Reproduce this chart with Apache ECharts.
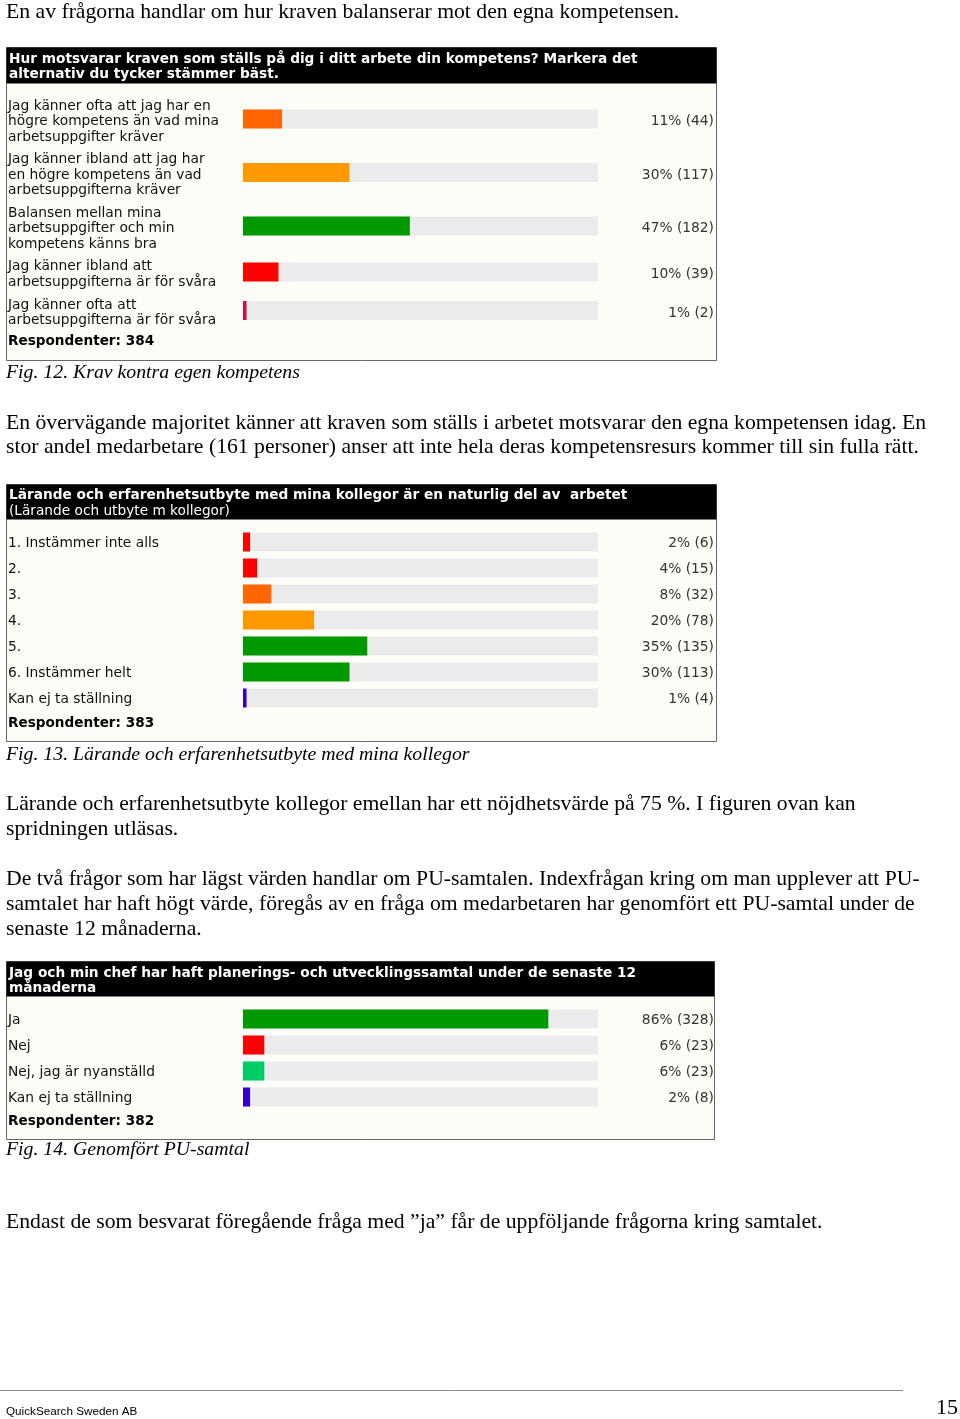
<!DOCTYPE html>
<html><head><meta charset="utf-8">
<script src="https://cdn.jsdelivr.net/npm/echarts@6/dist/echarts.min.js"></script>
<style>html,body{margin:0;padding:0;background:#fff}#c{width:960px;height:1419px}</style>
</head><body><div id="c"></div>
<script>
// ---------- Panel 1 (Fig. 12) ----------
const p1Title = ["Hur motsvarar kraven som ställs på dig i ditt arbete din kompetens? Markera det", "alternativ du tycker stämmer bäst."];
const p1Categories = [
  "Jag känner ofta att jag har en\nhögre kompetens än vad mina\narbetsuppgifter kräver",
  "Jag känner ibland att jag har\nen högre kompetens än vad\narbetsuppgifterna kräver",
  "Balansen mellan mina\narbetsuppgifter och min\nkompetens känns bra",
  "Jag känner ibland att\narbetsuppgifterna är för svåra",
  "Jag känner ofta att\narbetsuppgifterna är för svåra"
];
const p1Percent = [11, 30, 47, 10, 1];
const p1Count = [44, 117, 182, 39, 2];
const p1Colors = ["#ff6600", "#ff9900", "#009900", "#ff0000", "#c41050"];
const p1Respondents = 384;

// ---------- Panel 2 (Fig. 13) ----------
const p2Title = ["Lärande och erfarenhetsutbyte med mina kollegor är en naturlig del av  arbetet", "(Lärande och utbyte m kollegor)"];
const p2Categories = ["1. Instämmer inte alls", "2.", "3.", "4.", "5.", "6. Instämmer helt", "Kan ej ta ställning"];
const p2Percent = [2, 4, 8, 20, 35, 30, 1];
const p2Count = [6, 15, 32, 78, 135, 113, 4];
const p2Colors = ["#ff0000", "#ff0000", "#ff6600", "#ff9900", "#009900", "#009900", "#3300cc"];
const p2Respondents = 383;

// ---------- Panel 3 (Fig. 14) ----------
const p3Title = ["Jag och min chef har haft planerings- och utvecklingssamtal under de senaste 12", "månaderna"];
const p3Categories = ["Ja", "Nej", "Nej, jag är nyanställd", "Kan ej ta ställning"];
const p3Percent = [86, 6, 6, 2];
const p3Count = [328, 23, 23, 8];
const p3Colors = ["#009900", "#ff0000", "#00cc66", "#3300cc"];
const p3Respondents = 382;

// ---------- Document text ----------
const docTexts = [
  {y: 12, t: "En av frågorna handlar om hur kraven balanserar mot den egna kompetensen."},
  {y: 423, t: "En övervägande majoritet känner att kraven som ställs i arbetet motsvarar den egna kompetensen idag. En"},
  {y: 447, t: "stor andel medarbetare (161 personer) anser att inte hela deras kompetensresurs kommer till sin fulla rätt."},
  {y: 804, t: "Lärande och erfarenhetsutbyte kollegor emellan har ett nöjdhetsvärde på 75 %. I figuren ovan kan"},
  {y: 829, t: "spridningen utläsas."},
  {y: 879, t: "De två frågor som har lägst värden handlar om PU-samtalen. Indexfrågan kring om man upplever att PU-"},
  {y: 904, t: "samtalet har haft högt värde, föregås av en fråga om medarbetaren har genomfört ett PU-samtal under de"},
  {y: 929, t: "senaste 12 månaderna."},
  {y: 1222, t: "Endast de som besvarat föregående fråga med ”ja” får de uppföljande frågorna kring samtalet."}
];
const captions = [
  {y: 373, t: "Fig. 12. Krav kontra egen kompetens"},
  {y: 755, t: "Fig. 13. Lärande och erfarenhetsutbyte med mina kollegor"},
  {y: 1150, t: "Fig. 14. Genomfört PU-samtal"}
];

const UI_FONT = '"DejaVu Sans", Verdana, sans-serif';
const SERIF = '"Liberation Serif", "Times New Roman", serif';

const grids = [], xAxes = [], yAxes = [], series = [], graphics = [];
const hiddenAxis = {axisLine: {show: false}, axisTick: {show: false}, splitLine: {show: false}};

function addPanel(p) {
  graphics.push({type: 'rect', shape: {x: p.boxX, y: p.boxY, width: p.boxW, height: p.boxH},
    style: {fill: '#fdfdf7', stroke: '#666', lineWidth: 1}, z: -10});
  graphics.push({type: 'rect', shape: {x: p.boxX, y: p.boxY, width: p.boxW, height: p.headH},
    style: {fill: '#000'}, z: -9});
  p.title.forEach((t, i) => {
    graphics.push({type: 'text', x: 9, y: p.titleY[i], z: -8,
      style: {text: t, fill: '#fff', verticalAlign: 'middle', align: 'left',
        font: (i === 0 || p.boldSecond ? 'bold 13.7px ' : '13.7px ') + UI_FONT}});
  });
  graphics.push({type: 'text', x: 8, y: p.respY, z: -8,
    style: {text: 'Respondenter: ' + p.respondents, fill: '#000', verticalAlign: 'middle', align: 'left',
      font: 'bold 13.6px ' + UI_FONT}});
  let c = p.firstCenter;
  p.categories.forEach((cat, i) => {
    if (i > 0) {
      const hPrev = Math.max(p.pitch, 15 * p.categories[i - 1].split('\n').length + 8.5);
      const hCur = Math.max(p.pitch, 15 * cat.split('\n').length + 8.5);
      c += (hPrev + hCur) / 2;
    }
    // bar grid
    const gi = grids.length;
    grids.push({left: 243, width: 355, top: c - 9.5, height: 19, show: false, containLabel: false, outerBoundsMode: 'none'});
    xAxes.push({type: 'value', gridIndex: gi, min: 0, max: 100, show: false});
    const yb = yAxes.length;
    yAxes.push(Object.assign({type: 'category', gridIndex: gi, data: [cat], axisLabel: {show: false}}, hiddenAxis));
    series.push({type: 'bar', xAxisIndex: gi, yAxisIndex: yb, data: [100], barWidth: 19, silent: true,
      itemStyle: {color: '#ebebeb'}, animation: false});
    series.push({type: 'bar', xAxisIndex: gi, yAxisIndex: yb, data: [p.percent[i]], barWidth: 19, barGap: '-100%',
      silent: true, itemStyle: {color: p.colors[i]}, animation: false});
    // label grid (text sits slightly lower than bar centre)
    const gl = grids.length;
    grids.push({left: 243, width: 355, top: c - 9.5 + p.labelShift, height: 19, show: false, containLabel: false, outerBoundsMode: 'none'});
    xAxes.push({type: 'value', gridIndex: gl, min: 0, max: 100, show: false});
    yAxes.push(Object.assign({type: 'category', gridIndex: gl, data: [cat], position: 'left',
      axisLabel: {align: 'left', margin: 235, lineHeight: 15.5, fontSize: 13.8, fontFamily: UI_FONT, color: '#111'}}, hiddenAxis));
    yAxes.push(Object.assign({type: 'category', gridIndex: gl, data: [p.percent[i] + '% (' + p.count[i] + ')'], position: 'right',
      axisLabel: {align: 'right', margin: 116, fontSize: 13.8, fontFamily: UI_FONT, color: '#333'}}, hiddenAxis));
  });
}

addPanel({title: p1Title, titleY: [59, 74], boldSecond: true, categories: p1Categories, percent: p1Percent,
  count: p1Count, colors: p1Colors, respondents: p1Respondents, boxX: 6.5, boxY: 47.5, boxW: 710, boxH: 313, headH: 36,
  firstCenter: 119, pitch: 26, respY: 341.5, labelShift: 2.5});
addPanel({title: p2Title, titleY: [495.5, 511.5], boldSecond: false, categories: p2Categories, percent: p2Percent,
  count: p2Count, colors: p2Colors, respondents: p2Respondents, boxX: 6.5, boxY: 484.5, boxW: 710, boxH: 257, headH: 35,
  firstCenter: 542, pitch: 26, respY: 723.5, labelShift: 1.5});
addPanel({title: p3Title, titleY: [973.5, 988.5], boldSecond: true, categories: p3Categories, percent: p3Percent,
  count: p3Count, colors: p3Colors, respondents: p3Respondents, boxX: 6.5, boxY: 961.5, boxW: 708, boxH: 178, headH: 35,
  firstCenter: 1019, pitch: 26, respY: 1121.5, labelShift: 1.5});

docTexts.forEach(d => graphics.push({type: 'text', x: 6, y: d.y, style: {text: d.t, fill: '#000', verticalAlign: 'middle',
  font: '21.7px ' + SERIF}}));
captions.forEach(d => graphics.push({type: 'text', x: 6, y: d.y, style: {text: d.t, fill: '#000', verticalAlign: 'middle',
  font: 'italic 19.8px ' + SERIF}}));
graphics.push({type: 'line', shape: {x1: 0, y1: 1390.5, x2: 903, y2: 1390.5}, style: {stroke: '#888', lineWidth: 1}});
graphics.push({type: 'text', x: 6, y: 1412, style: {text: 'QuickSearch Sweden AB', fill: '#000', verticalAlign: 'middle',
  font: '11.7px "Liberation Sans", Arial, sans-serif'}});
graphics.push({type: 'text', x: 958, y: 1408, style: {text: '15', fill: '#000', verticalAlign: 'middle', align: 'right',
  font: '22px ' + SERIF}});

const chart = echarts.init(document.getElementById('c'), null, {renderer: 'canvas'});
chart.setOption({
  animation: false,
  backgroundColor: '#fff',
  grid: grids, xAxis: xAxes, yAxis: yAxes, series: series,
  graphic: {elements: graphics}
});
</script></body></html>
